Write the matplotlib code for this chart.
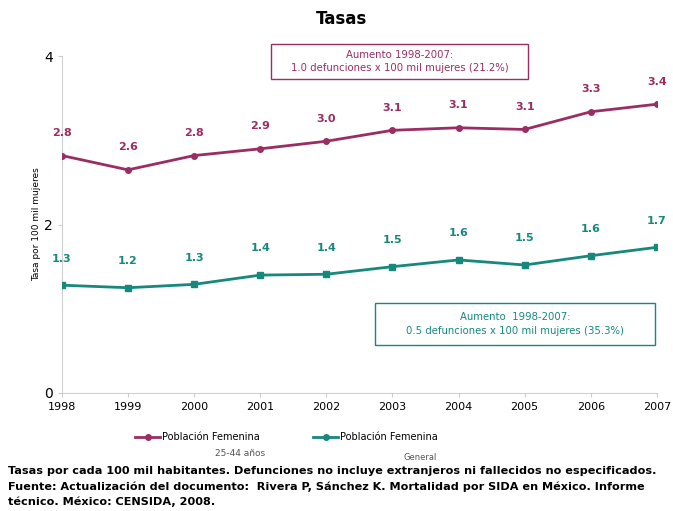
import numpy as np
import matplotlib
matplotlib.use("Agg")
import matplotlib.pyplot as plt
from matplotlib.patches import Rectangle

years = [1998, 1999, 2000, 2001, 2002, 2003, 2004, 2005, 2006, 2007]
fem_25_44 = [2.82, 2.65, 2.82, 2.90, 2.99, 3.12, 3.15, 3.13, 3.34, 3.43]
fem_25_44_lbl = ["2.8", "2.6", "2.8", "2.9", "3.0", "3.1", "3.1", "3.1", "3.3", "3.4"]
fem_gen = [1.28, 1.25, 1.29, 1.40, 1.41, 1.50, 1.58, 1.52, 1.63, 1.73]
fem_gen_lbl = ["1.3", "1.2", "1.3", "1.4", "1.4", "1.5", "1.6", "1.5", "1.6", "1.7"]
yticks = [0, 2, 4]

C_MAG = "#9a2d63"
C_TEAL = "#16897c"

fig = plt.figure(figsize=(6.73, 5.11), dpi=100)
ax = fig.add_axes([0.092, 0.231, 0.884, 0.659])

ax.plot(years, fem_25_44, color=C_MAG, lw=2, marker="o", ms=4, zorder=3)
ax.plot(years, fem_gen, color=C_TEAL, lw=2, marker="s", ms=4, zorder=3)
for x, y, s in zip(years, fem_25_44, fem_25_44_lbl):
    ax.annotate(s, (x, y), xytext=(0, 14), textcoords="offset points", ha="center",
                fontsize=8, fontweight="bold", color=C_MAG)
for x, y, s in zip(years, fem_gen, fem_gen_lbl):
    ax.annotate(s, (x, y), xytext=(0, 17), textcoords="offset points", ha="center",
                fontsize=8, fontweight="bold", color=C_TEAL)

ax.set_xlim(1998, 2007)
ax.set_ylim(0, 4)
ax.set_xticks(years)
ax.set_yticks(yticks)
ax.tick_params(labelsize=8, length=3, color="#cccccc")
ax.tick_params(axis="y", labelsize=10)
for s in ["top", "right"]:
    ax.spines[s].set_visible(False)
for s in ["left", "bottom"]:
    ax.spines[s].set_color("#d0d0d0")
ax.set_ylabel("Tasa por 100 mil mujeres", fontsize=6.5, labelpad=2)

fig.text(0.508, 0.963, "Tasas", ha="center", va="center", fontsize=12, fontweight="bold",
         family=["Liberation Sans Narrow", "DejaVu Sans"])

# overlay in pixel coordinates for boxes, legend, notes
lax = fig.add_axes([0, 0, 1, 1], facecolor="none")
lax.set_axis_off()
lax.set_xlim(0, 673)
lax.set_ylim(511, 0)

lax.add_patch(Rectangle((271, 44), 257, 35, fill=False, ec=C_MAG, lw=1))
lax.text(399.5, 61.5, "Aumento 1998-2007:\n1.0 defunciones x 100 mil mujeres (21.2%)",
         ha="center", va="center", fontsize=7.3, color=C_MAG, linespacing=1.4)
lax.add_patch(Rectangle((375, 303), 280, 42, facecolor="white", ec=C_TEAL, lw=1))
lax.text(515, 324, "Aumento  1998-2007:\n0.5 defunciones x 100 mil mujeres (35.3%)",
         ha="center", va="center", fontsize=7.3, color=C_TEAL, linespacing=1.5)

lax.plot([135, 160], [437, 437], color=C_MAG, lw=2)
lax.plot([147.5], [437], color=C_MAG, marker="o", ms=4)
lax.text(162, 437, "Población Femenina", fontsize=7, va="center")
lax.text(240, 454, "25-44 años", fontsize=6.5, va="center", ha="center", color="#555555")
lax.plot([313, 338], [437, 437], color=C_TEAL, lw=2)
lax.plot([325.5], [437], color=C_TEAL, marker="o", ms=4)
lax.text(340, 437, "Población Femenina", fontsize=7, va="center")
lax.text(420, 457, "General", fontsize=6, va="center", ha="center", color="#555555")

notes = ["Tasas por cada 100 mil habitantes. Defunciones no incluye extranjeros ni fallecidos no especificados.",
         "Fuente: Actualización del documento:  Rivera P, Sánchez K. Mortalidad por SIDA en México. Informe",
         "técnico. México: CENSIDA, 2008."]
for i, line in enumerate(notes):
    lax.text(8, 471 + 15.5 * i, line, fontsize=8.1, fontweight="bold", va="center")

fig.savefig("out.png", dpi=100)
